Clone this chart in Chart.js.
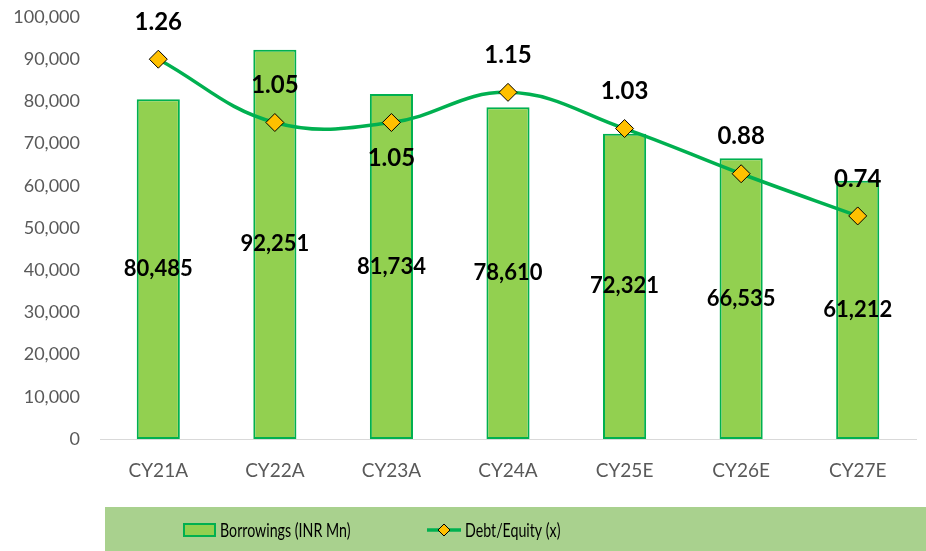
<!DOCTYPE html>
<html>
<head>
<meta charset="utf-8">
<script src="https://cdn.jsdelivr.net/npm/chart.js@4/dist/chart.umd.min.js"></script>
<style>
  html, body { margin: 0; padding: 0; background: #ffffff; }
  #wrap { width: 926px; height: 551px; position: relative; }
</style>
</head>
<body>
<div id="wrap"><canvas id="c" width="926" height="551"></canvas></div>
<script>
// ---- data ----
const categories = ['CY21A', 'CY22A', 'CY23A', 'CY24A', 'CY25E', 'CY26E', 'CY27E'];
const borrowings = [80485, 92251, 81734, 78610, 72321, 66535, 61212];
const debtEquity = [1.26, 1.05, 1.05, 1.15, 1.03, 0.88, 0.74];
const seriesNames = ['Borrowings (INR Mn)', 'Debt/Equity (x)'];

const FONT = 'Lato, "Open Sans", sans-serif';
const BAR_FILL = '#92d050';
const BAR_EDGE = '#00b050';
const LINE_COL = '#00b050';
const MARK_FILL = '#ffc000';

const valueLabels = {
  id: 'valueLabels',
  afterDatasetsDraw(chart, args, opts) {
    const ctx = chart.ctx;
    ctx.save();
    ctx.fillStyle = '#000000';
    ctx.textAlign = 'center';
    ctx.textBaseline = 'middle';
    const barMeta = chart.getDatasetMeta(1);
    ctx.font = 'bold 22px ' + FONT;
    barMeta.data.forEach((el, i) => {
      const p = el.getProps(['x', 'y', 'base'], true);
      ctx.fillText(borrowings[i].toLocaleString('en-US'), p.x, (p.y + p.base) / 2);
    });
    const lineMeta = chart.getDatasetMeta(0);
    ctx.font = 'bold 24px ' + FONT;
    lineMeta.data.forEach((el, i) => {
      const p = el.getProps(['x', 'y'], true);
      const below = (opts.below || []).includes(i);
      const dy = below ? 36 : -37;
      ctx.fillText(debtEquity[i].toFixed(2), p.x, p.y + dy);
    });
    ctx.restore();
  }
};

const customLegend = {
  id: 'customLegend',
  afterDraw(chart) {
    const ctx = chart.ctx;
    ctx.save();
    ctx.fillStyle = '#a9d18e';
    ctx.fillRect(105, 507, 821, 44);
    ctx.fillStyle = BAR_FILL;
    ctx.fillRect(183, 523, 33, 14);
    ctx.strokeStyle = BAR_EDGE;
    ctx.lineWidth = 2;
    ctx.strokeRect(184, 524, 31, 12);
    ctx.strokeStyle = LINE_COL;
    ctx.lineWidth = 3.5;
    ctx.beginPath();
    ctx.moveTo(427, 530);
    ctx.lineTo(461, 530);
    ctx.stroke();
    ctx.beginPath();
    const cx = 444, cy = 530, r = 6;
    ctx.moveTo(cx, cy - r); ctx.lineTo(cx + r, cy); ctx.lineTo(cx, cy + r); ctx.lineTo(cx - r, cy); ctx.closePath();
    ctx.fillStyle = MARK_FILL; ctx.fill();
    ctx.strokeStyle = '#000000'; ctx.lineWidth = 1; ctx.stroke();
    ctx.fillStyle = '#000000';
    ctx.font = '20px ' + FONT;
    ctx.textAlign = 'left';
    ctx.textBaseline = 'middle';
    const sx = 0.71;
    ctx.save(); ctx.translate(220, 531); ctx.scale(sx, 1); ctx.fillText(seriesNames[0], 0, 0); ctx.restore();
    ctx.save(); ctx.translate(465, 531); ctx.scale(sx, 1); ctx.fillText(seriesNames[1], 0, 0); ctx.restore();
    ctx.restore();
  }
};

new Chart(document.getElementById('c'), {
  data: {
    labels: categories,
    datasets: [
      {
        type: 'line',
        label: seriesNames[1],
        data: debtEquity,
        yAxisID: 'y1',
        order: 0,
        borderColor: LINE_COL,
        borderWidth: 3.5,
        tension: 0.4,
        pointStyle: 'rectRot',
        pointRadius: 9,
        pointHoverRadius: 9,
        pointBackgroundColor: MARK_FILL,
        pointBorderColor: '#000000',
        pointBorderWidth: 1,
        fill: false
      },
      {
        type: 'bar',
        label: seriesNames[0],
        data: borrowings,
        yAxisID: 'y',
        order: 1,
        backgroundColor: BAR_FILL,
        borderColor: BAR_EDGE,
        borderWidth: 2,
        borderSkipped: false,
        categoryPercentage: 1,
        barPercentage: 0.37
      }
    ]
  },
  options: {
    responsive: false,
    animation: false,
    events: [],
    layout: { padding: { top: 17, right: 7, bottom: 62, left: 0 } },
    plugins: {
      legend: { display: false },
      tooltip: { enabled: false },
      valueLabels: { below: [2] }
    },
    scales: {
      x: {
        grid: { display: false, drawTicks: false },
        border: { display: true, color: '#d9d9d9', width: 1 },
        ticks: { color: '#595959', font: { family: FONT, size: 19 }, padding: 20 },
        afterFit: s => { s.height = 50; }
      },
      y: {
        position: 'left',
        min: 0, max: 100000,
        grid: { display: false, drawTicks: true, tickLength: 20 },
        border: { display: false },
        ticks: {
          stepSize: 10000,
          color: '#595959',
          font: { family: FONT, size: 18 },
          padding: 0,
          callback: v => v.toLocaleString('en-US')
        },
        afterFit: s => { s.width = 100; }
      },
      y1: {
        display: false,
        min: 0, max: 1.4
      }
    }
  },
  plugins: [valueLabels, customLegend]
});
</script>
</body>
</html>
